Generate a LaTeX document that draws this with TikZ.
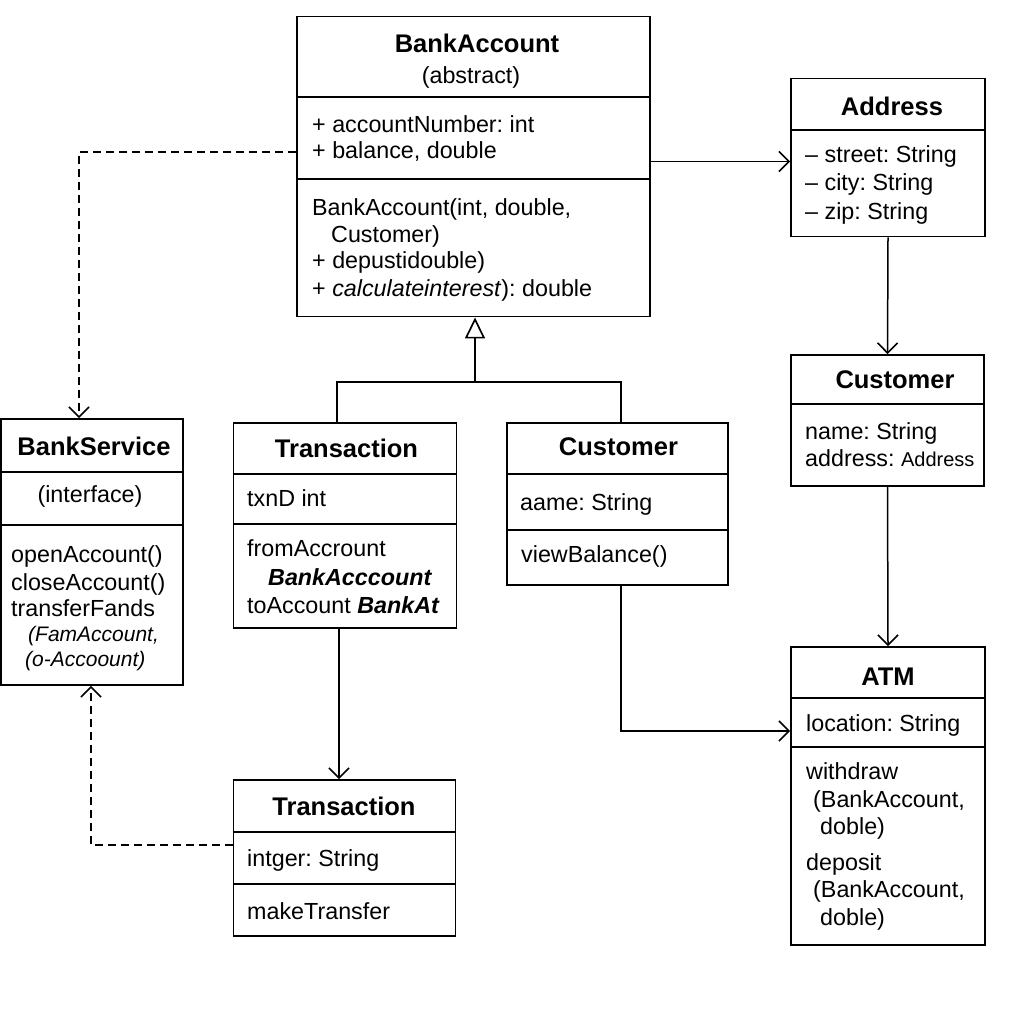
\documentclass[tikz,border=0pt]{standalone}
\usepackage{fontspec}
\setmainfont{Liberation Sans}
\usetikzlibrary{arrows.meta}
\frenchspacing
\newcommand\bodyfont{\fontsize{23.3}{28}\selectfont}
\newcommand\headfont{\fontsize{25.5}{30}\selectfont\bfseries}
\begin{document}
\begin{tikzpicture}[x=1pt,y=-1pt,
  classbox/.style={draw, line width=1.9pt, inner sep=0pt, rectangle},
  divider/.style={line width=1.6pt},
  txt/.style={anchor=base west, inner sep=0pt, font=\bodyfont},
  head/.style={anchor=base, inner sep=0pt, font=\headfont},
  link/.style={line width=1.5pt, -{Straight Barb[length=10pt, width=20pt, line width=1.6pt]}},
  dep/.style={link, dash pattern=on 8pt off 5pt},
  inherit/.style={line width=1.5pt, -{Triangle[open, length=21pt, width=20pt, line width=1.7pt]}}
]
\useasboundingbox[fill=white] (0,0) rectangle (1024,1024);

% ---------- class boxes ----------
\node[classbox, minimum width=353pt, minimum height=300pt] (ba) at (473.5,166.5) {};
\node[classbox, minimum width=194pt, minimum height=158pt] (addr) at (888,157.5) {};
\node[classbox, minimum width=193pt, minimum height=131pt] (custR) at (887.5,420.5) {};
\node[classbox, minimum width=194pt, minimum height=298pt] (atm) at (888,796) {};
\node[classbox, minimum width=182pt, minimum height=266pt] (svc) at (92,552) {};
\node[classbox, minimum width=223pt, minimum height=205pt] (txA) at (345,525.5) {};
\node[classbox, minimum width=221pt, minimum height=162pt] (custM) at (617.8,504) {};
\node[classbox, minimum width=222pt, minimum height=156pt] (txB) at (344.5,858) {};

% ---------- compartment dividers ----------
\draw[divider] (ba.west |- 0,97) -- (ba.east |- 0,97);
\draw[divider] (ba.west |- 0,179) -- (ba.east |- 0,179);
\draw[divider] (addr.west |- 0,130) -- (addr.east |- 0,130);
\draw[divider] (custR.west |- 0,404) -- (custR.east |- 0,404);
\draw[divider] (atm.west |- 0,698) -- (atm.east |- 0,698);
\draw[divider] (atm.west |- 0,747) -- (atm.east |- 0,747);
\draw[divider] (svc.west |- 0,472) -- (svc.east |- 0,472);
\draw[divider] (svc.west |- 0,525) -- (svc.east |- 0,525);
\draw[divider] (txA.west |- 0,474) -- (txA.east |- 0,474);
\draw[divider] (txA.west |- 0,524) -- (txA.east |- 0,524);
\draw[divider] (custM.west |- 0,474) -- (custM.east |- 0,474);
\draw[divider] (custM.west |- 0,530) -- (custM.east |- 0,530);
\draw[divider] (txB.west |- 0,832) -- (txB.east |- 0,832);
\draw[divider] (txB.west |- 0,884) -- (txB.east |- 0,884);

% ---------- BankAccount ----------
\node[head] (ba-t) at (477,53) {BankAccount};
\node[txt, anchor=base] (ba-s) at (471,84) {(abstract)};
\node[txt] (ba-a1) at (312,133) {+ accountNumber: int};
\node[txt] (ba-a2) at (312,159) {+ balance, double};
\node[txt] (ba-m1) at (312,216) {BankAccount(int, double,};
\node[txt] (ba-m2) at (331,242) {Customer)};
\node[txt] (ba-m3) at (312,268.5) {+ depustidouble)};
\node[txt] (ba-m4) at (312,296) {+ \textit{calculateinterest}): double};

% ---------- Address ----------
\node[head] (addr-t) at (892,115.5) {Address};
\node[txt] (addr-a1) at (805,162.5) {– street: String};
\node[txt] (addr-a2) at (805,190.5) {– city: String};
\node[txt] (addr-a3) at (805,219) {– zip: String};

% ---------- Customer (right) ----------
\node[head] (custR-t) at (895,388.5) {Customer};
\node[txt] (custR-a1) at (805,439.5) {name: String};
\node[txt] (custR-a2) at (805,466.5) {address: {\fontsize{20}{24}\selectfont Address}};

% ---------- ATM ----------
\node[head] (atm-t) at (888,685) {ATM};
\node[txt] (atm-a1) at (806,731.5) {location: String};
\node[txt] (atm-m1) at (806,779.5) {withdraw};
\node[txt] (atm-m2) at (813,807) {(BankAccount,};
\node[txt] (atm-m3) at (820,834.5) {doble)};
\node[txt] (atm-m4) at (806,870) {deposit};
\node[txt] (atm-m5) at (813,897) {(BankAccount,};
\node[txt] (atm-m6) at (820,925) {doble)};

% ---------- BankService ----------
\node[head] (svc-t) at (94,455.5) {BankService};
\node[txt, anchor=base] (svc-s) at (90,502) {(interface)};
\node[txt] (svc-m1) at (11,562.5) {openAccount()};
\node[txt] (svc-m2) at (11,590) {closeAccount()};
\node[txt] (svc-m3) at (11,616.5) {transferFands};
\node[txt, font=\fontsize{21}{25}\selectfont\itshape] (svc-m4) at (28,641.5) {(FamAccount,};
\node[txt, font=\fontsize{21}{25}\selectfont\itshape] (svc-m5) at (25,666.5) {(o-Accoount)};

% ---------- Transaction (upper) ----------
\node[head] (txA-t) at (346.5,457.5) {Transaction};
\node[txt] (txA-a1) at (247,506.5) {txnD int};
\node[txt] (txA-m1) at (247,556.5) {fromAccrount};
\node[txt] (txA-m2) at (268,585) {\textbf{\textit{BankAcccount}}};
\node[txt] (txA-m3) at (247,613.5) {toAccount \textbf{\textit{BankAt}}};

% ---------- Customer (middle) ----------
\node[head] (custM-t) at (618.5,455.5) {Customer};
\node[txt] (custM-a1) at (520,510) {aame: String};
\node[txt] (custM-m1) at (521,562) {viewBalance()};

% ---------- Transaction (lower) ----------
\node[head] (txB-t) at (344,815) {Transaction};
\node[txt] (txB-a1) at (247,866.5) {intger: String};
\node[txt] (txB-m1) at (247,919) {makeTransfer};

% ---------- connectors ----------
% generalisation: Transaction and Customer under BankAccount
\coordinate (gen) at (475,382);
\draw[inherit] (gen) -- (gen |- ba.south);
\draw[line width=1.5pt] (txA.north -| 337,0) |- (gen) -| (custM.north -| 621,0);

% dependency: BankAccount -> BankService
\draw[dep] (ba.west |- 0,152) -| (svc.north -| 79,0);
% dependency: lower Transaction -> BankService
\draw[dep] (txB.west |- 0,845) -| (svc.south -| 91,0);

% associations
\draw[link] (ba.east |- 0,161.5) -- (addr.west |- 0,161.5);
\draw[link] (addr.south) -- (custR.north);
\draw[link] (custR.south) -- (atm.north);
\draw[link] (custM.south -| 621,0) |- (atm.west |- 0,731);
\draw[link] (txA.south -| 339,0) -- (txB.north -| 339,0);
\end{tikzpicture}
\end{document}
